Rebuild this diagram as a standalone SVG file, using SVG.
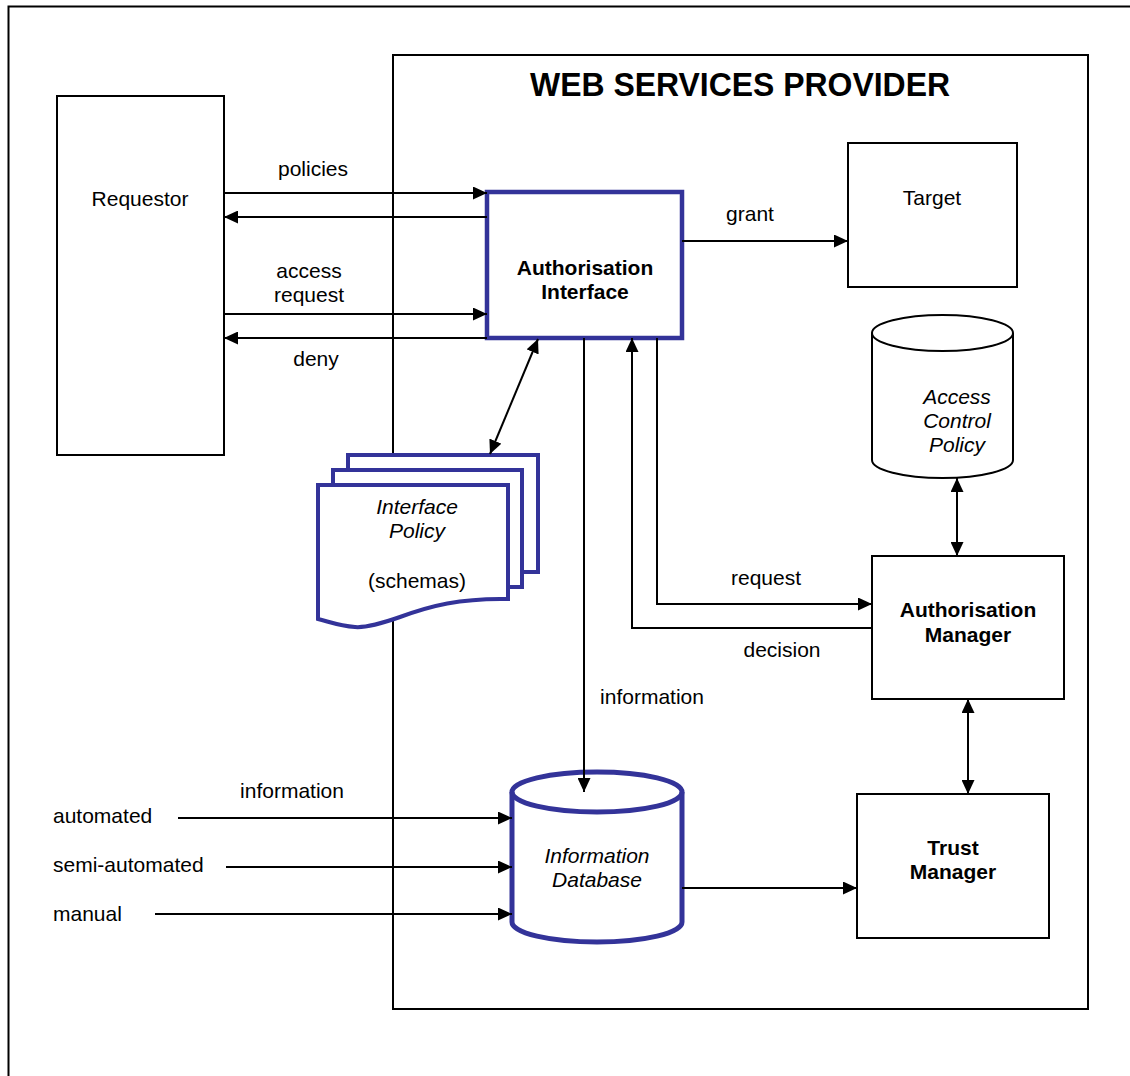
<svg xmlns="http://www.w3.org/2000/svg" width="1130" height="1076" viewBox="0 0 1130 1076">
  <style>
    .box { fill: #ffffff; stroke: #000000; stroke-width: 2; }
    .blue { fill: #ffffff; stroke: #333399; stroke-width: 4.5; }
    .sheet { stroke-width: 4; }
    .drum { stroke-width: 5; }
    .open { fill: none; }
    .frame { fill: none; stroke: #000000; stroke-width: 2; }
    .link { fill: none; stroke: #000000; stroke-width: 2; }
    .arrow { marker-end: url(#head); }
    .both { marker-end: url(#head); marker-start: url(#head); }
    text { font-family: "Liberation Sans", Arial, sans-serif; font-size: 21px; fill: #000000; }
    .c { text-anchor: middle; }
    .b { font-weight: bold; }
    .i { font-style: italic; }
    .title { font-size: 34px; }
  </style>
  <defs>
    <marker id="head" viewBox="0 0 14 13" refX="14" refY="6.5" markerWidth="14" markerHeight="13" markerUnits="userSpaceOnUse" orient="auto-start-reverse">
      <path d="M0,0 L14,6.5 L0,13 Z" fill="#000000"/>
    </marker>
  </defs>

  <rect width="1130" height="1076" fill="#ffffff"/>

  <!-- outer page frame -->
  <rect class="frame" x="8.5" y="6.5" width="1140" height="1090"/>

  <!-- provider boundary -->
  <g id="provider">
    <rect class="box" x="393" y="55" width="695" height="954"/>
    <text class="c b title" x="740" y="96" textLength="420" lengthAdjust="spacingAndGlyphs">WEB SERVICES PROVIDER</text>
  </g>

  <g id="requestor">
    <rect class="box" x="57" y="96" width="167" height="359"/>
    <text class="c" x="140" y="206">Requestor</text>
  </g>

  <g id="authorisation-interface">
    <rect class="blue" x="487" y="192" width="195" height="146"/>
    <text class="c b" x="585" y="275">Authorisation</text>
    <text class="c b" x="585" y="299">Interface</text>
  </g>

  <g id="target">
    <rect class="box" x="848" y="143" width="169" height="144"/>
    <text class="c" x="932" y="205">Target</text>
  </g>

  <g id="access-control-policy">
    <path class="box" d="M872,333 V460 A70.5,18 0 0 0 1013,460 V333 A70.5,18 0 0 0 872,333 Z"/>
    <path class="box open" d="M872,333 A70.5,18 0 0 0 1013,333"/>
    <text class="c i" x="957" y="404">Access</text>
    <text class="c i" x="957" y="428">Control</text>
    <text class="c i" x="957" y="452">Policy</text>
  </g>

  <g id="interface-policy">
    <rect class="blue sheet" x="348" y="455" width="190" height="117"/>
    <rect class="blue sheet" x="333" y="470" width="189" height="117"/>
    <path class="blue sheet" d="M318,485 H508 V599 C460,598 430,606 400,617 C380,624 365,628 355,627 C340,626 330,622 318,619 Z"/>
    <text class="c i" x="417" y="514">Interface</text>
    <text class="c i" x="417" y="538">Policy</text>
    <text class="c" x="417" y="588">(schemas)</text>
  </g>

  <g id="authorisation-manager">
    <rect class="box" x="872" y="556" width="192" height="143"/>
    <text class="c b" x="968" y="617">Authorisation</text>
    <text class="c b" x="968" y="642">Manager</text>
  </g>

  <g id="information-database">
    <path class="blue drum" d="M512,792 V922 A85,20 0 0 0 682,922 V792 A85,20 0 0 0 512,792 Z"/>
    <path class="blue drum open" d="M512,792 A85,20 0 0 0 682,792"/>
    <text class="c i" x="597" y="863">Information</text>
    <text class="c i" x="597" y="887">Database</text>
  </g>

  <g id="trust-manager">
    <rect class="box" x="857" y="794" width="192" height="144"/>
    <text class="c b" x="953" y="855">Trust</text>
    <text class="c b" x="953" y="879">Manager</text>
  </g>

  <g id="sources">
    <text x="53" y="823">automated</text>
    <text x="53" y="872">semi-automated</text>
    <text x="53" y="921">manual</text>
  </g>

  <!-- connectors and their labels -->
  <g id="connectors">
    <line class="link arrow" x1="224" y1="193" x2="487" y2="193"/>
    <line class="link arrow" x1="487" y1="217" x2="224" y2="217"/>
    <line class="link arrow" x1="224" y1="314" x2="487" y2="314"/>
    <line class="link arrow" x1="487" y1="338" x2="224" y2="338"/>
    <text class="c" x="313" y="176">policies</text>
    <text class="c" x="309" y="278">access</text>
    <text class="c" x="309" y="302">request</text>
    <text class="c" x="316" y="366">deny</text>

    <line class="link arrow" x1="682" y1="241" x2="848" y2="241"/>
    <text class="c" x="750" y="221">grant</text>

    <line class="link both" x1="538" y1="339" x2="490" y2="454"/>

    <polyline class="link arrow" points="657,338 657,604 872,604"/>
    <text class="c" x="766" y="585">request</text>
    <polyline class="link arrow" points="872,628 632,628 632,338"/>
    <text class="c" x="782" y="657">decision</text>

    <line class="link arrow" x1="584" y1="338" x2="584" y2="792"/>
    <text class="c" x="652" y="704">information</text>

    <line class="link both" x1="957" y1="478" x2="957" y2="556"/>
    <line class="link both" x1="968" y1="699" x2="968" y2="794"/>

    <line class="link arrow" x1="178" y1="818" x2="512" y2="818"/>
    <line class="link arrow" x1="226" y1="867" x2="512" y2="867"/>
    <line class="link arrow" x1="155" y1="914" x2="512" y2="914"/>
    <text class="c" x="292" y="798">information</text>

    <line class="link arrow" x1="682" y1="888" x2="857" y2="888"/>
  </g>
</svg>
